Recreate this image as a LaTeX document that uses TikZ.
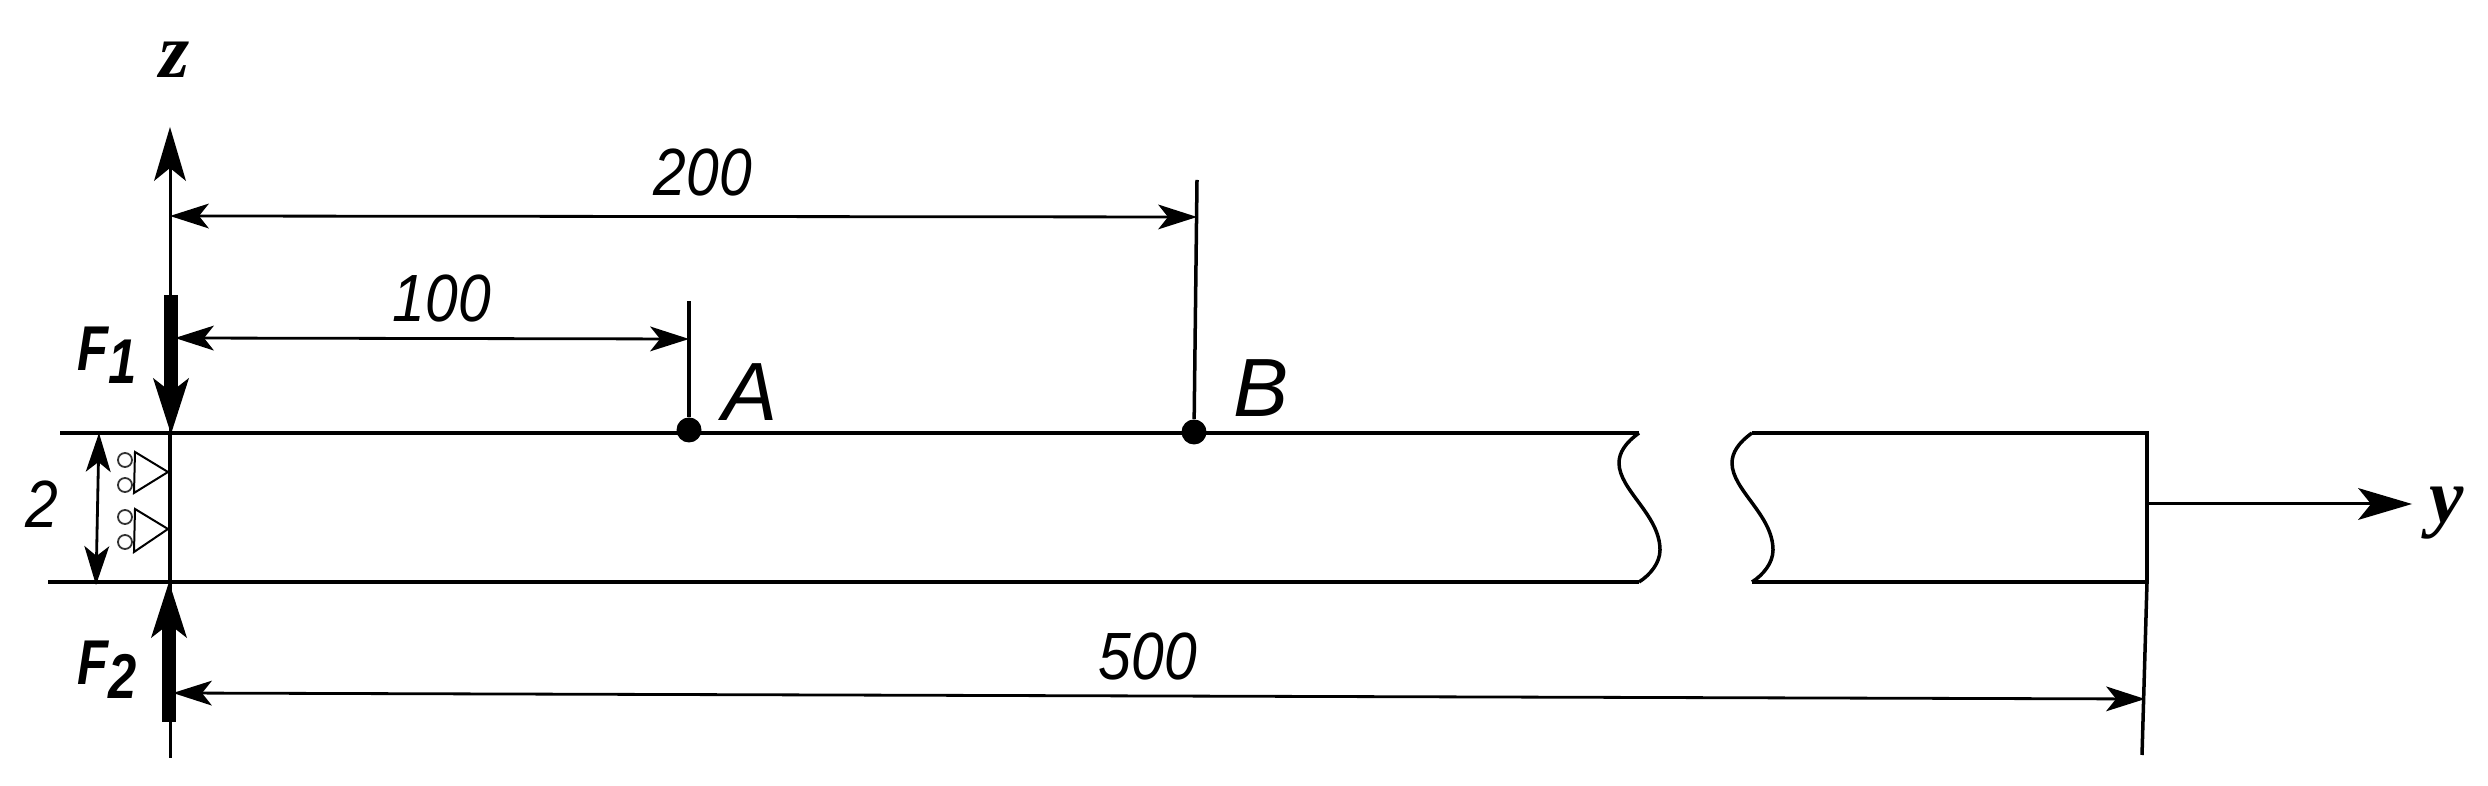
\documentclass[tikz,border=0pt]{standalone}
\usepackage{fontspec}
\setmainfont{Liberation Sans}
\newfontfamily\axisfont{Liberation Serif}
\newfontfamily\dimfont[FakeStretch=0.88]{Liberation Sans}
\newfontfamily\forcefont[FakeStretch=0.8]{Liberation Sans}
\usetikzlibrary{arrows.meta, positioning}
\tikzset{x=0.01cm, y=-0.01cm, % One unit is one pixel of the reference
>={Stealth[length=0.39cm, width=0.25cm, inset=0.10cm, line width=0pt]}, % Dimension arrows
beam/.style={line width=0.045cm},
thin line/.style={line width=0.035cm},
dimline/.style={<->, line width=0.028cm},
axistip/.tip={Stealth[length=0.54cm, width=0.32cm, inset=0.13cm, line width=0pt]},
forcetip/.tip={Stealth[length=0.56cm, width=0.36cm, inset=0.14cm, line width=0pt]},
force/.style={-forcetip, line width=0.14cm},
dot/.style={circle, fill=black, inner sep=0pt, minimum size=0.25cm},
roller/.style={circle, draw=black!80, line width=0.018cm, inner sep=0pt, minimum size=0.14cm},
dimtext/.style={inner sep=0pt, anchor=base, font=\fontsize{19}{20}\selectfont\dimfont\itshape},
pointtext/.style={inner sep=0pt, anchor=base west, font=\fontsize{23.5}{24}\selectfont\itshape},
forcetext/.style={inner sep=0pt, anchor=base west, font=\fontsize{18}{20}\selectfont\forcefont\bfseries\itshape},
axistext/.style={inner sep=0pt, anchor=base, font=\fontsize{22}{24}\selectfont\axisfont\bfseries\itshape}}

\begin{document}
\begin{tikzpicture}

    \useasboundingbox (0,0) rectangle (2488,786);

    % beam corners and the break
    \coordinate (topstart) at (60,433);
    \coordinate (botstart) at (48,582);
    \coordinate (topleft) at (170,433);
    \coordinate (botleft) at (170,582);
    \coordinate (topbreakL) at (1639,433);
    \coordinate (botbreakL) at (1639,582);
    \coordinate (topbreakR) at (1752,433);
    \coordinate (botbreakR) at (1752,582);
    \coordinate (topright) at (2147,433);
    \coordinate (botright) at (2147,582);

    \draw[beam] (topstart) -- (topbreakL);
    \draw[beam] (botstart) -- (botbreakL);
    \draw[beam] (topbreakR) -- (topright) -- (botright) -- (botbreakR);
    \draw[thin line] (topleft) -- (botleft);

    \draw[thin line] (topbreakL) .. controls +(-14,10) and (1619,453) .. (1619,463)
        .. controls (1619,490) and (1660,515) .. (1660,550)
        .. controls (1660,563) and (1650,575) .. (botbreakL);
    \draw[thin line] (topbreakR) .. controls +(-14,10) and (1732,453) .. (1732,463)
        .. controls (1732,490) and (1773,515) .. (1773,550)
        .. controls (1773,563) and (1763,575) .. (botbreakR);

    % axes
    \coordinate (ztip) at (170,127);
    \coordinate (zfoot) at (170,758);
    \coordinate (yfoot) at (2147,504);
    \coordinate (ytip) at (2412,504);
    \draw[-axistip, line width=0.03cm] (zfoot) -- (ztip);
    \draw[-axistip, line width=0.03cm] (yfoot) -- (ytip);
    \node[axistext] (zlabel) at (175,78) {z};
    \node[axistext] (ylabel) at (2447,523) {y};

    % forces
    \coordinate (F1tail) at (171,295);
    \coordinate (F1tip) at (171,434);
    \coordinate (F2tail) at (169,722);
    \coordinate (F2tip) at (169,582);
    \draw[force] (F1tail) -- (F1tip);
    \draw[force] (F2tail) -- (F2tip);
    \node[forcetext] (F1label) at (77,371) {F\raisebox{-0.13cm}{1}};
    \node[forcetext] (F2label) at (77,685) {F\raisebox{-0.13cm}{2}};

    % points on the beam
    \node[dot] (A) at (689,430) {};
    \node[dot] (B) at (1194,432) {};
    \coordinate (Atop) at (689,301);
    \coordinate (Btop) at (1197,180);
    \draw[thin line] (A) -- (Atop);
    \draw[thin line] (B) -- (Btop);
    \node[pointtext] (Alabel) at (722,421) {A};
    \node[pointtext] (Blabel) at (1233,417) {B};

    % dimensions
    \coordinate (d100L) at (175,338);
    \coordinate (d100R) at (689,339);
    \coordinate (d200L) at (170,216);
    \coordinate (d200R) at (1197,217);
    \coordinate (d500L) at (173,693);
    \coordinate (d500R) at (2145,699);
    \coordinate (d2top) at (99,433);
    \coordinate (d2bot) at (96,585);
    \coordinate (endfoot) at (2142,755);
    \draw[dimline] (d100L) -- (d100R);
    \draw[dimline] (d200L) -- (d200R);
    \draw[dimline] (d500L) -- (d500R);
    \draw[dimline] (d2top) -- (d2bot);
    \draw[thin line] (botright) -- (endfoot);
    \node[dimtext] (t100) at (442,322) {100};
    \node[dimtext] (t200) at (703,196) {200};
    \node[dimtext] (t500) at (1148,680) {500};
    \node[dimtext] (t2) at (42,528) {2};

    % rollers
    \draw[line width=0.02cm] (135,452) -- (168,472) -- (134,493) -- cycle;
    \draw[line width=0.02cm] (135,509) -- (168,529) -- (134,552) -- cycle;
    \node[roller] (r1) at (125,460) {};
    \node[roller] (r2) at (125,485) {};
    \node[roller] (r3) at (125,517) {};
    \node[roller] (r4) at (125,542) {};

\end{tikzpicture}
\end{document}
